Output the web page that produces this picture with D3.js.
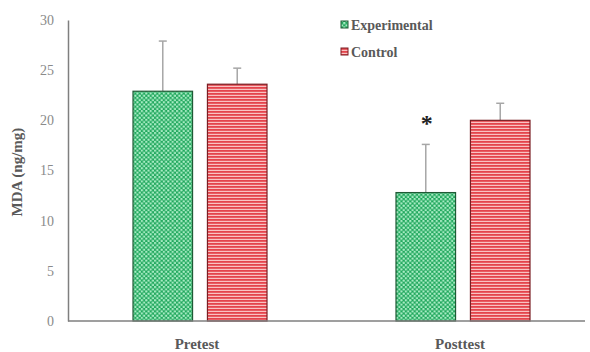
<!DOCTYPE html>
<html><head><meta charset="utf-8">
<script src="https://cdn.jsdelivr.net/npm/d3@7"></script>
<style>body{margin:0;background:#fff}svg{display:block}</style>
</head><body>
<script>
const categories = ["Pretest", "Posttest"];
const seriesNames = ["Experimental", "Control"];
const experimental = [22.9, 12.8];
const control = [23.6, 20.0];
const experimentalErr = [5.0, 4.8];
const controlErr = [1.6, 1.7];
const yTicks = [0, 5, 10, 15, 20, 25, 30];

const W = 590, H = 352;
const svg = d3.select("body").append("svg").attr("width", W).attr("height", H);
const defs = svg.append("defs");

// green dot pattern
const pg = defs.append("pattern").attr("id", "dots").attr("patternUnits", "userSpaceOnUse")
  .attr("width", 4.4).attr("height", 4.4);
pg.append("rect").attr("width", 4.4).attr("height", 4.4).attr("fill", "#22a85e");
pg.append("circle").attr("cx", 1.1).attr("cy", 1.1).attr("r", 1.2).attr("fill", "#a8ecc4");
pg.append("circle").attr("cx", 3.3).attr("cy", 3.3).attr("r", 1.2).attr("fill", "#a8ecc4");

// red stripe pattern
const pr = defs.append("pattern").attr("id", "stripes").attr("patternUnits", "userSpaceOnUse")
  .attr("width", 4).attr("height", 3);
pr.append("rect").attr("width", 4).attr("height", 3).attr("fill", "#f9c2c2");
pr.append("rect").attr("width", 4).attr("height", 1.8).attr("fill", "#e4444c");

const y = d3.scaleLinear().domain([0, 30]).range([321, 20]);
const groupX = d3.scalePoint().domain(categories).range([200, 463]);
const x1 = d3.scaleBand().domain(seriesNames).range([-67, 67]).paddingInner(0.2);

const fills = {Experimental: "url(#dots)", Control: "url(#stripes)"};
const strokes = {Experimental: "#1f5a35", Control: "#7a1f24"};
const vals = {Experimental: experimental, Control: control};
const errs = {Experimental: experimentalErr, Control: controlErr};

// axes
const yAxis = d3.axisLeft(y).tickValues(yTicks).tickSize(0).tickPadding(14);
const gy = svg.append("g").attr("transform", "translate(68,0)").call(yAxis);
gy.select(".domain").attr("stroke", "#7f7f7f").attr("stroke-width", 1.5);
gy.selectAll("text").attr("font-family", "Liberation Serif, serif").attr("font-size", 14).attr("fill", "#8a8a8a");

seriesNames.forEach(s => {
  const g = svg.append("g");
  categories.forEach((c, i) => {
    const bx = groupX(c) + x1(s);
    const bw = x1.bandwidth();
    const v = vals[s][i], e = errs[s][i];
    const cx = bx + bw / 2;
    g.append("line").attr("x1", cx).attr("x2", cx).attr("y1", y(v)).attr("y2", y(v + e))
      .attr("stroke", "#a6a6a6").attr("stroke-width", 1.5);
    g.append("line").attr("x1", cx - 4).attr("x2", cx + 4).attr("y1", y(v + e)).attr("y2", y(v + e))
      .attr("stroke", "#a6a6a6").attr("stroke-width", 1.5);
    g.append("rect").attr("x", bx).attr("y", y(v)).attr("width", bw).attr("height", y(0) - y(v))
      .attr("fill", fills[s]).attr("stroke", strokes[s]).attr("stroke-width", 1.2);
  });
});

// x axis line
svg.append("line").attr("x1", 68).attr("x2", 585).attr("y1", y(0)).attr("y2", y(0))
  .attr("stroke", "#7f7f7f").attr("stroke-width", 1.5);

// category labels
svg.selectAll(".cat").data(categories).enter().append("text")
  .attr("x", d => groupX(d) - 3).attr("y", 349).attr("text-anchor", "middle")
  .attr("font-family", "Liberation Serif, serif").attr("font-weight", "bold").attr("font-size", 15)
  .attr("fill", "#595959").text(d => d);

// asterisk
svg.append("text").attr("x", groupX("Posttest") + x1("Experimental") + x1.bandwidth() / 2 + 1).attr("y", 131)
  .attr("text-anchor", "middle").attr("font-family", "Liberation Serif, serif").attr("font-weight", "bold")
  .attr("font-size", 24).attr("fill", "#222").text("*");

// y title
svg.append("text").attr("transform", "translate(22,172) rotate(-90)").attr("text-anchor", "middle")
  .attr("font-family", "Liberation Serif, serif").attr("font-weight", "bold").attr("font-size", 15)
  .attr("fill", "#595959").text("MDA (ng/mg)");

// legend
const leg = svg.append("g");
seriesNames.forEach((s, i) => {
  const ly = 26 + i * 27;
  leg.append("rect").attr("x", 341).attr("y", ly - 5).attr("width", 7).attr("height", 7)
    .attr("fill", fills[s]).attr("stroke", strokes[s]).attr("stroke-width", 1);
  leg.append("text").attr("x", 351).attr("y", ly + 4).attr("font-family", "Liberation Serif, serif")
    .attr("font-weight", "bold").attr("font-size", 14).attr("fill", "#595959").text(s);
});
</script>
</body></html>
